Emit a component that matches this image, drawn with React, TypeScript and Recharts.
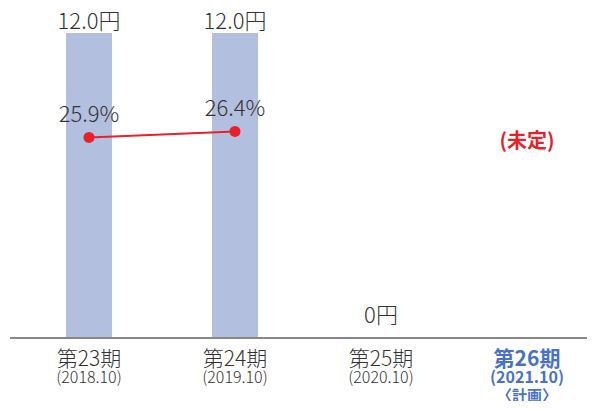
import React from 'react';
import { ComposedChart, Bar, Line, XAxis, YAxis, LabelList, ReferenceDot } from 'recharts';

const periods = ['第23期', '第24期', '第25期', '第26期'];
const dates = ['(2018.10)', '(2019.10)', '(2020.10)', '(2021.10)'];
const notes = ['', '', '', '〈計画〉'];
const dividends = [12.0, 12.0, 0, null];
const dividendLabels = ['12.0円', '12.0円', '0円', null];
const payoutRatios = [25.9, 26.4, null, null];
const undecidedLabel = '(未定)';

const data = periods.map((name, i) => ({
  name,
  date: dates[i],
  note: notes[i],
  dividend: dividends[i],
  dividendLabel: dividendLabels[i],
  ratio: payoutRatios[i],
}));

const FONT = '"Noto Sans CJK JP", "Noto Sans", sans-serif';
const TEXT = '#333333';
const BLUE = '#4a72c4';
const RED = '#e8202a';

const PeriodTick = (props: any) => {
  const { x, y, payload, index } = props;
  const planned = index === periods.length - 1;
  const color = planned ? BLUE : TEXT;
  const weight = planned ? 700 : 300;
  return (
    <g>
      <text x={x} y={y + 20} textAnchor="middle" fill={color} fontSize={21} fontWeight={weight} fontFamily={FONT}>
        {payload.value}
      </text>
      <text x={x} y={y + 37} textAnchor="middle" fill={color} fontSize={16} fontWeight={weight} fontFamily={FONT}>
        {dates[index]}
      </text>
      {notes[index] && (
        <text x={x} y={y + 55} textAnchor="middle" fill={color} fontSize={15} fontWeight={weight} fontFamily={FONT}>
          {notes[index]}
        </text>
      )}
    </g>
  );
};

const DividendLabel = (props: any) => {
  const { x, y, value } = props;
  if (value == null || x == null || y == null) return null;
  const lift = value === '0円' ? 15 : 4;
  return (
    <text x={x} y={y - lift} textAnchor="middle" fill={TEXT} fontSize={22} fontWeight={300} fontFamily={FONT}>
      {value}
    </text>
  );
};

export default function App() {
  return (
    <div style={{ margin: -8, width: 595, height: 409, overflow: 'hidden', background: '#fff' }}>
      <ComposedChart
        width={600}
        height={409}
        data={data}
        margin={{ top: 33, right: 0, left: 10, bottom: 6 }}
      >
        <XAxis
          dataKey="name"
          axisLine={{ stroke: '#888888', strokeWidth: 2 }}
          tickLine={false}
          padding={{ left: 6, right: 0 }}
          height={65}
          interval={0}
          tick={<PeriodTick />}
        />
        <YAxis yAxisId="left" hide domain={[0, 12]} />
        <YAxis yAxisId="right" hide orientation="right" domain={[9.2, 34.6]} />
        <Bar yAxisId="left" dataKey="dividend" fill="#b3bfdf" barSize={46} isAnimationActive={false} />
        <Line
          yAxisId="left"
          dataKey="dividend"
          stroke="none"
          dot={false}
          activeDot={false}
          isAnimationActive={false}
        >
          <LabelList dataKey="dividendLabel" content={<DividendLabel />} />
        </Line>
        <Line
          yAxisId="right"
          dataKey="ratio"
          stroke={RED}
          strokeWidth={2}
          dot={{ r: 5.5, fill: RED, stroke: 'none' }}
          activeDot={false}
          isAnimationActive={false}
        >
          <LabelList
            dataKey="ratio"
            position="top"
            offset={15}
            formatter={(v: any) => (v == null ? '' : `${v}%`)}
            fill={TEXT}
            fontSize={22}
            fontWeight={300}
            fontFamily={FONT}
          />
        </Line>
        <ReferenceDot
          yAxisId="right"
          x="第26期"
          y={25.65}
          r={0}
          label={{ value: undecidedLabel, position: 'center', fill: RED, fontSize: 20, fontWeight: 700, fontFamily: FONT }}
        />
      </ComposedChart>
    </div>
  );
}
